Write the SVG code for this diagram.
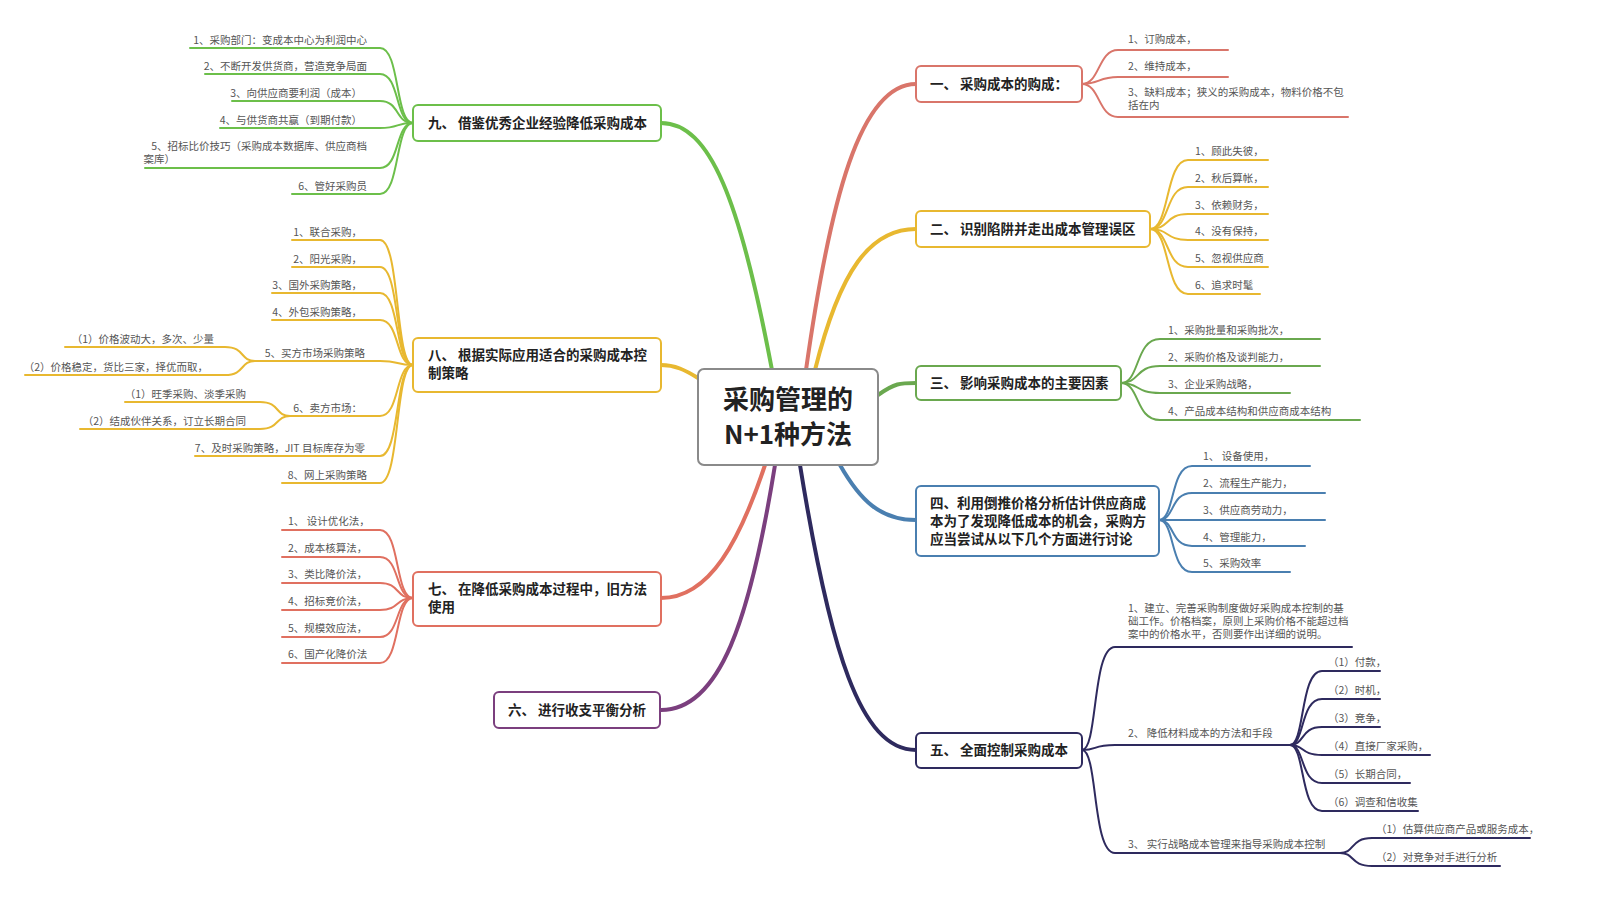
<svg xmlns="http://www.w3.org/2000/svg" width="1600" height="916" viewBox="0 0 1600 916">
<style>
text{font-family:"Noto Sans CJK SC","Liberation Sans",sans-serif}
.l{font-size:10.5px;fill:#555}
.n{font-size:13.5px;font-weight:bold;fill:#222}
.c{font-size:26px;font-weight:bold;fill:#222}
.e{text-anchor:end}
path{fill:none;stroke-linecap:round}
.b{fill:#fff;stroke-width:2}
.t{stroke-width:2}
.m{stroke-width:4}
</style>
<rect width="1600" height="916" fill="#fff"/>
<g id="connectors">
<path class="m" stroke="#d9756a" d="M806,370 C830,200 860,84 916,84"/>
<path class="m" stroke="#e8b830" d="M815,370 C840,270 870,229 916,229"/>
<path class="m" stroke="#6aa84f" d="M878,395 C895,383 900,383 916,383"/>
<path class="m" stroke="#4a7fb0" d="M840,465 C860,500 880,520 916,520"/>
<path class="m" stroke="#2e2a5e" d="M800,465 C830,650 860,750 916,750"/>
<path class="m" stroke="#6cbf4a" d="M772,370 C740,200 710,123 661,123"/>
<path class="m" stroke="#e8b830" d="M698,378 C685,370 675,365 661,365"/>
<path class="m" stroke="#e07060" d="M765,465 C740,540 710,598 661,598"/>
<path class="m" stroke="#7b3f7e" d="M775,465 C750,620 720,710 661,710"/>
<g stroke="#d9756a" class="t">
<path d="M1082,84 C1100,84 1098,50 1118,50 H1228"/>
<path d="M1082,84 C1100,84 1098,77 1118,77 H1228"/>
<path d="M1082,84 C1100,84 1098,117 1118,117 H1348"/>
</g>
<g stroke="#e8b830" class="t">
<path d="M1150,229 C1170,229 1165,160 1188,160 H1268"/>
<path d="M1150,229 C1170,229 1165,187 1188,187 H1268"/>
<path d="M1150,229 C1170,229 1165,214 1188,214 H1268"/>
<path d="M1150,229 C1170,229 1165,240 1188,240 H1268"/>
<path d="M1150,229 C1170,229 1165,267 1188,267 H1268"/>
<path d="M1150,229 C1170,229 1165,294 1188,294 H1260"/>
</g>
<g stroke="#6aa84f" class="t">
<path d="M1121,383 C1140,383 1135,339 1160,339 H1320"/>
<path d="M1121,383 C1140,383 1135,366 1160,366 H1320"/>
<path d="M1121,383 C1140,383 1135,393 1160,393 H1290"/>
<path d="M1121,383 C1140,383 1135,420 1160,420 H1360"/>
</g>
<g stroke="#4a7fb0" class="t">
<path d="M1159,520 C1175,520 1170,466 1192,466 H1310"/>
<path d="M1159,520 C1175,520 1170,493 1192,493 H1325"/>
<path d="M1159,520 C1175,520 1170,520 1192,520 H1325"/>
<path d="M1159,520 C1175,520 1170,546 1192,546 H1305"/>
<path d="M1159,520 C1175,520 1170,572 1192,572 H1290"/>
</g>
<g stroke="#2e2a5e" class="t">
<path d="M1082,750 C1098,750 1092,647 1115,647 H1352"/>
<path d="M1082,750 C1098,750 1092,745 1115,745 H1290"/>
<path d="M1082,750 C1098,750 1092,853 1115,853 H1340"/>
<path d="M1290,745 C1305,745 1300,671 1322,671 H1380"/>
<path d="M1290,745 C1305,745 1300,699 1322,699 H1380"/>
<path d="M1290,745 C1305,745 1300,727 1322,727 H1380"/>
<path d="M1290,745 C1305,745 1300,755 1322,755 H1430"/>
<path d="M1290,745 C1305,745 1300,783 1322,783 H1410"/>
<path d="M1290,745 C1305,745 1300,811 1322,811 H1418"/>
<path d="M1340,853 C1355,853 1350,838 1372,838 H1530"/>
<path d="M1340,853 C1355,853 1350,866 1372,866 H1500"/>
</g>
<g stroke="#6cbf4a" class="t">
<path d="M413,123 C395,123 400,48 380,48 H190"/>
<path d="M413,123 C395,123 400,74 380,74 H205"/>
<path d="M413,123 C395,123 400,101 380,101 H232"/>
<path d="M413,123 C395,123 400,128 380,128 H220"/>
<path d="M413,123 C395,123 400,168 380,168 H145"/>
<path d="M413,123 C395,123 400,194 380,194 H292"/>
</g>
<g stroke="#e8b830" class="t">
<path d="M413,365 C395,365 400,240 380,240 H292"/>
<path d="M413,365 C395,365 400,267 380,267 H292"/>
<path d="M413,365 C395,365 400,293 380,293 H272"/>
<path d="M413,365 C395,365 400,320 380,320 H272"/>
<path d="M413,365 C395,365 400,361 380,361 H255"/>
<path d="M413,365 C395,365 400,416 380,416 H290"/>
<path d="M413,365 C395,365 400,456 380,456 H195"/>
<path d="M413,365 C395,365 400,483 380,483 H282"/>
<path d="M255,361 C240,361 245,347 225,347 H65"/>
<path d="M255,361 C240,361 245,375 225,375 H25"/>
<path d="M290,416 C275,416 280,402 260,402 H125"/>
<path d="M290,416 C275,416 280,429 260,429 H80"/>
</g>
<g stroke="#e07060" class="t">
<path d="M413,598 C395,598 400,530 380,530 H282"/>
<path d="M413,598 C395,598 400,557 380,557 H282"/>
<path d="M413,598 C395,598 400,583 380,583 H282"/>
<path d="M413,598 C395,598 400,610 380,610 H282"/>
<path d="M413,598 C395,598 400,637 380,637 H282"/>
<path d="M413,598 C395,598 400,663 380,663 H282"/>
</g>
</g>
<g id="center"><rect class="b" x="698" y="369" width="180" height="96" rx="6" stroke="#8a8a8a"/>
<text class="c" x="788" y="409" text-anchor="middle">采购管理的</text><text class="c" x="788" y="444" text-anchor="middle">N+1种方法</text></g>
<g id="n1"><rect class="b" x="916" y="66" width="166" height="36" rx="5" stroke="#d9756a"/><text class="n" x="930" y="89">一、 采购成本的购成：</text>
<text class="l" x="1128" y="43">1、订购成本，</text><text class="l" x="1128" y="70">2、维持成本，</text><text class="l" x="1128" y="96">3、缺料成本；狭义的采购成本，物料价格不包</text><text class="l" x="1128" y="109">括在内</text></g>
<g id="n2"><rect class="b" x="916" y="211" width="234" height="36" rx="5" stroke="#e8b830"/><text class="n" x="930" y="234">二、 识别陷阱并走出成本管理误区</text>
<text class="l" x="1195" y="155">1、顾此失彼，</text><text class="l" x="1195" y="182">2、秋后算帐，</text><text class="l" x="1195" y="209">3、依赖财务，</text><text class="l" x="1195" y="235">4、没有保持，</text><text class="l" x="1195" y="262">5、忽视供应商</text><text class="l" x="1195" y="289">6、追求时髦</text></g>
<g id="n3"><rect class="b" x="916" y="366" width="205" height="34" rx="5" stroke="#6aa84f"/><text class="n" x="930" y="388">三、 影响采购成本的主要因素</text>
<text class="l" x="1168" y="334">1、采购批量和采购批次，</text><text class="l" x="1168" y="361">2、采购价格及谈判能力，</text><text class="l" x="1168" y="388">3、企业采购战略，</text><text class="l" x="1168" y="415">4、产品成本结构和供应商成本结构</text></g>
<g id="n4"><rect class="b" x="916" y="486" width="243" height="70" rx="5" stroke="#4a7fb0"/><text class="n" x="930" y="508">四、利用倒推价格分析估计供应商成</text><text class="n" x="930" y="526">本为了发现降低成本的机会，采购方</text><text class="n" x="930" y="544">应当尝试从以下几个方面进行讨论</text>
<text class="l" x="1203" y="460">1、 设备使用，</text><text class="l" x="1203" y="487">2、流程生产能力，</text><text class="l" x="1203" y="514">3、供应商劳动力，</text><text class="l" x="1203" y="541">4、管理能力，</text><text class="l" x="1203" y="567">5、采购效率</text></g>
<g id="n5"><rect class="b" x="916" y="733" width="166" height="35" rx="5" stroke="#2e2a5e"/><text class="n" x="930" y="755">五、 全面控制采购成本</text>
<text class="l" x="1128" y="612">1、建立、完善采购制度做好采购成本控制的基</text><text class="l" x="1128" y="625">础工作。价格档案，原则上采购价格不能超过档</text><text class="l" x="1128" y="638">案中的价格水平，否则要作出详细的说明。</text>
<text class="l" x="1128" y="737">2、 降低材料成本的方法和手段</text>
<text class="l" x="1328" y="666">（1）付款，</text><text class="l" x="1328" y="694">（2）时机，</text><text class="l" x="1328" y="722">（3）竞争，</text><text class="l" x="1328" y="750">（4）直接厂家采购，</text><text class="l" x="1328" y="778">（5）长期合同，</text><text class="l" x="1328" y="806">（6）调查和信收集</text>
<text class="l" x="1128" y="848">3、 实行战略成本管理来指导采购成本控制</text>
<text class="l" x="1376" y="833">（1）估算供应商产品或服务成本，</text><text class="l" x="1376" y="861">（2）对竞争对手进行分析</text></g>
<g id="n6"><rect class="b" x="494" y="692" width="166" height="36" rx="5" stroke="#7b3f7e"/><text class="n" x="508" y="715">六、 进行收支平衡分析</text></g>
<g id="n7"><rect class="b" x="413" y="572" width="248" height="54" rx="5" stroke="#e07060"/><text class="n" x="428" y="594">七、 在降低采购成本过程中，旧方法</text><text class="n" x="428" y="612">使用</text>
<text class="l" x="288" y="525">1、 设计优化法，</text><text class="l" x="288" y="552">2、成本核算法，</text><text class="l" x="288" y="578">3、类比降价法，</text><text class="l" x="288" y="605">4、招标竞价法，</text><text class="l" x="288" y="632">5、规模效应法，</text><text class="l" x="288" y="658">6、国产化降价法</text></g>
<g id="n8"><rect class="b" x="413" y="338" width="248" height="54" rx="5" stroke="#e8b830"/><text class="n" x="428" y="360">八、 根据实际应用适合的采购成本控</text><text class="n" x="428" y="378">制策略</text>
<g class="l e"><text x="362" y="236">1、联合采购，</text><text x="362" y="263">2、阳光采购，</text><text x="362" y="289">3、国外采购策略，</text><text x="362" y="316">4、外包采购策略，</text><text x="365" y="357">5、买方市场采购策略</text><text x="362" y="412">6、卖方市场：</text><text x="365" y="452">7、及时采购策略，JIT 目标库存为零</text><text x="367" y="479">8、网上采购策略</text>
<text x="214" y="343">（1）价格波动大，多次、少量</text><text x="208" y="371">（2）价格稳定，货比三家，择优而取，</text><text x="246" y="398">（1）旺季采购、淡季采购</text><text x="246" y="425">（2）结成伙伴关系，订立长期合同</text></g></g>
<g id="n9"><rect class="b" x="413" y="105" width="248" height="36" rx="5" stroke="#6cbf4a"/><text class="n" x="428" y="128">九、 借鉴优秀企业经验降低采购成本</text>
<g class="l e"><text x="367" y="44">1、采购部门：变成本中心为利润中心</text><text x="367" y="70">2、不断开发供货商，营造竞争局面</text><text x="362" y="97">3、向供应商要利润（成本）</text><text x="362" y="124">4、与供货商共赢（到期付款）</text><text x="367" y="150">5、招标比价技巧（采购成本数据库、供应商档</text><text x="175" y="163">案库）</text><text x="367" y="190">6、管好采购员</text></g></g>
</svg>
